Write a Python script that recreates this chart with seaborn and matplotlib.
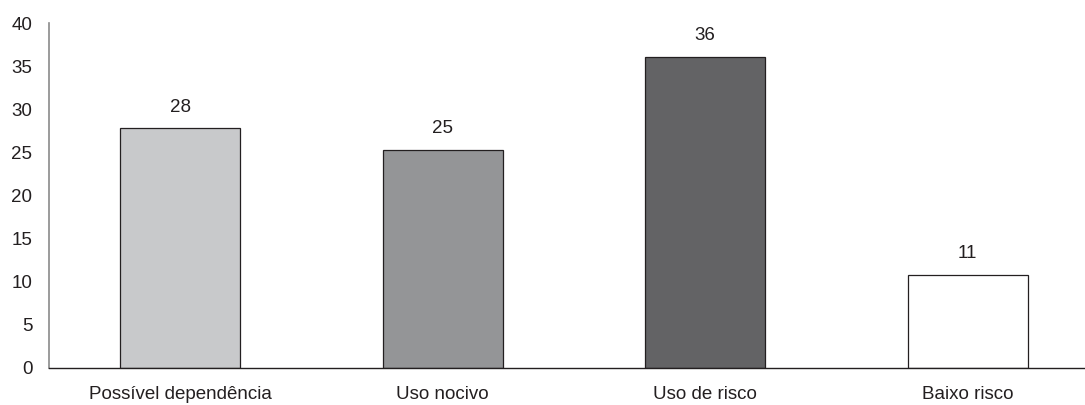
import matplotlib
matplotlib.use("Agg")
import matplotlib.pyplot as plt
import seaborn as sns
import pandas as pd

categories = ["Possível dependência", "Uso nocivo", "Uso de risco", "Baixo risco"]
values = [27.8, 25.3, 36.1, 10.8]
bar_colors = ["#c8c9cb", "#939598", "#636365", "#ffffff"]
y_ticks = [0, 5, 10, 15, 20, 25, 30, 35, 40]

sns.set_theme(style="white")
plt.rcParams["font.family"] = ["Liberation Sans", "DejaVu Sans"]

df = pd.DataFrame({"categoria": categories, "valor": values})

fig = plt.figure(figsize=(10.85, 4.05), dpi=100)
ax = fig.add_axes([49 / 1085, 1 - 368 / 405, (1085 - 49) / 1085, (368 - 23) / 405])

sns.barplot(data=df, x="categoria", y="valor", hue="categoria",
            palette=bar_colors, width=0.457, edgecolor="#231f20",
            linewidth=0.9, legend=False, ax=ax)

for p, v in zip(ax.patches, values):
    ax.annotate(f"{v:.0f}", (p.get_x() + p.get_width() / 2, p.get_height()),
                xytext=(0, 9), textcoords="offset points",
                ha="center", va="bottom", fontsize=13.5, color="#231f20")

ax.set_ylim(0, 40)
ax.set_xlim(-0.5, 3.447)
ax.set_yticks(y_ticks)
ax.set_xlabel("")
ax.set_ylabel("")
ax.tick_params(axis="both", length=0, labelsize=13.5, colors="#231f20")
ax.tick_params(axis="x", pad=13)
ax.tick_params(axis="y", pad=12)

for s in ["top", "right"]:
    ax.spines[s].set_visible(False)
ax.spines["left"].set_color("#8a8a8a")
ax.spines["left"].set_linewidth(1.2)
ax.spines["bottom"].set_color("#231f20")
ax.spines["bottom"].set_linewidth(1.0)

fig.savefig("out.png", dpi=100)
